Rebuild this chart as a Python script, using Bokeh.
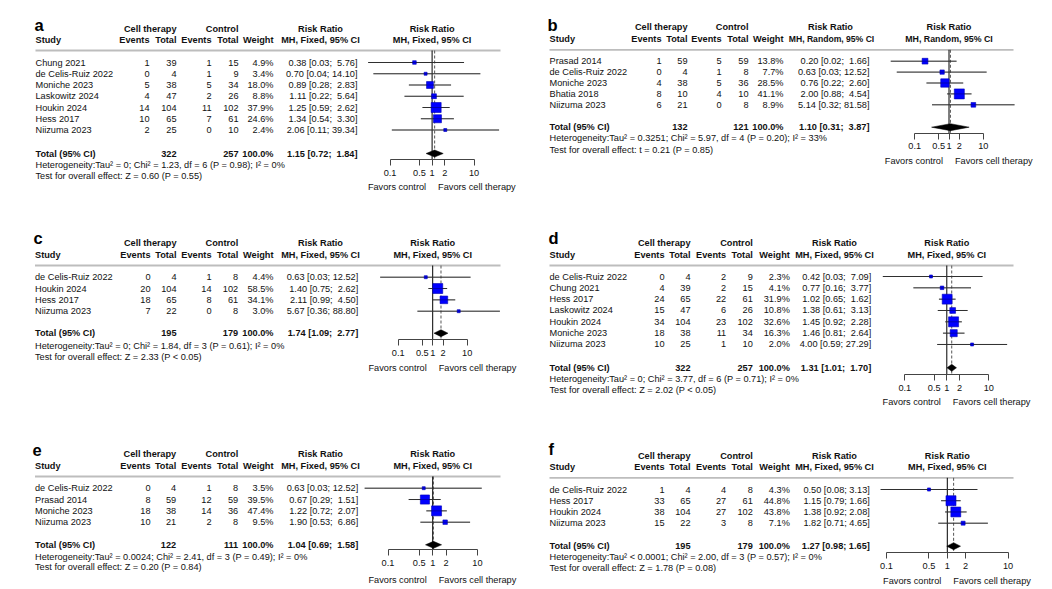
import math
from bokeh.plotting import figure
from bokeh.models import Range1d, LogScale, LogAxis, FixedTicker
from bokeh.core.properties import value
from bokeh.embed import file_html
from bokeh.resources import INLINE

# ---------------- data ----------------
A_STUDY = ["Chung 2021", "de Celis-Ruiz 2022", "Moniche 2023", "Laskowitz 2024",
           "Houkin 2024", "Hess 2017", "Niizuma 2023"]
A_EV_T = [1, 0, 5, 4, 14, 10, 2]
A_N_T = [39, 4, 38, 47, 104, 65, 25]
A_EV_C = [1, 1, 5, 2, 11, 7, 0]
A_N_C = [15, 9, 34, 26, 102, 61, 10]
A_W = [4.9, 3.4, 18.0, 8.8, 37.9, 24.6, 2.4]
A_RR = [0.38, 0.70, 0.89, 1.11, 1.25, 1.34, 2.06]
A_LO = [0.03, 0.04, 0.28, 0.22, 0.59, 0.54, 0.11]
A_HI = [5.76, 14.10, 2.83, 5.64, 2.62, 3.30, 39.34]
A_TOTAL_N = [322, 257]
A_TOTAL = [1.15, 0.72, 1.84]
A_METHOD = "MH, Fixed, 95% CI"
A_HET = "Heterogeneity:Tau² = 0; Chi² = 1.23, df = 6 (P = 0.98); I² = 0%"
A_TEST = "Test for overall effect: Z = 0.60 (P = 0.55)"

B_STUDY = ["Prasad 2014", "de Celis-Ruiz 2022", "Moniche 2023", "Bhatia 2018", "Niizuma 2023"]
B_EV_T = [1, 0, 4, 8, 6]
B_N_T = [59, 4, 38, 10, 21]
B_EV_C = [5, 1, 5, 4, 0]
B_N_C = [59, 8, 36, 10, 8]
B_W = [13.8, 7.7, 28.5, 41.1, 8.9]
B_RR = [0.20, 0.63, 0.76, 2.00, 5.14]
B_LO = [0.02, 0.03, 0.22, 0.88, 0.32]
B_HI = [1.66, 12.52, 2.60, 4.54, 81.58]
B_TOTAL_N = [132, 121]
B_TOTAL = [1.10, 0.31, 3.87]
B_METHOD = "MH, Random, 95% CI"
B_HET = "Heterogeneity:Tau² = 0.3251; Chi² = 5.97, df = 4 (P = 0.20); I² = 33%"
B_TEST = "Test for overall effect: t = 0.21 (P = 0.85)"

C_STUDY = ["de Celis-Ruiz 2022", "Houkin 2024", "Hess 2017", "Niizuma 2023"]
C_EV_T = [0, 20, 18, 7]
C_N_T = [4, 104, 65, 22]
C_EV_C = [1, 14, 8, 0]
C_N_C = [8, 102, 61, 8]
C_W = [4.4, 58.5, 34.1, 3.0]
C_RR = [0.63, 1.40, 2.11, 5.67]
C_LO = [0.03, 0.75, 0.99, 0.36]
C_HI = [12.52, 2.62, 4.50, 88.80]
C_TOTAL_N = [195, 179]
C_TOTAL = [1.74, 1.09, 2.77]
C_METHOD = "MH, Fixed, 95% CI"
C_HET = "Heterogeneity:Tau² = 0; Chi² = 1.84, df = 3 (P = 0.61); I² = 0%"
C_TEST = "Test for overall effect: Z = 2.33 (P < 0.05)"

D_STUDY = ["de Celis-Ruiz 2022", "Chung 2021", "Hess 2017", "Laskowitz 2024",
           "Houkin 2024", "Moniche 2023", "Niizuma 2023"]
D_EV_T = [0, 4, 24, 15, 34, 18, 10]
D_N_T = [4, 39, 65, 47, 104, 38, 25]
D_EV_C = [2, 2, 22, 6, 23, 11, 1]
D_N_C = [9, 15, 61, 26, 102, 34, 10]
D_W = [2.3, 4.1, 31.9, 10.8, 32.6, 16.3, 2.0]
D_RR = [0.42, 0.77, 1.02, 1.38, 1.45, 1.46, 4.00]
D_LO = [0.03, 0.16, 0.65, 0.61, 0.92, 0.81, 0.59]
D_HI = [7.09, 3.77, 1.62, 3.13, 2.28, 2.64, 27.29]
D_TOTAL_N = [322, 257]
D_TOTAL = [1.31, 1.01, 1.70]
D_METHOD = "MH, Fixed, 95% CI"
D_HET = "Heterogeneity:Tau² = 0; Chi² = 3.77, df = 6 (P = 0.71); I² = 0%"
D_TEST = "Test for overall effect: Z = 2.02 (P < 0.05)"

E_STUDY = ["de Celis-Ruiz 2022", "Prasad 2014", "Moniche 2023", "Niizuma 2023"]
E_EV_T = [0, 8, 18, 10]
E_N_T = [4, 59, 38, 21]
E_EV_C = [1, 12, 14, 2]
E_N_C = [8, 59, 36, 8]
E_W = [3.5, 39.5, 47.4, 9.5]
E_RR = [0.63, 0.67, 1.22, 1.90]
E_LO = [0.03, 0.29, 0.72, 0.53]
E_HI = [12.52, 1.51, 2.07, 6.86]
E_TOTAL_N = [122, 111]
E_TOTAL = [1.04, 0.69, 1.58]
E_METHOD = "MH, Fixed, 95% CI"
E_HET = "Heterogeneity:Tau² = 0.0024; Chi² = 2.41, df = 3 (P = 0.49); I² = 0%"
E_TEST = "Test for overall effect: Z = 0.20 (P = 0.84)"

F_STUDY = ["de Celis-Ruiz 2022", "Hess 2017", "Houkin 2024", "Niizuma 2023"]
F_EV_T = [1, 33, 38, 15]
F_N_T = [4, 65, 104, 22]
F_EV_C = [4, 27, 27, 3]
F_N_C = [8, 61, 102, 8]
F_W = [4.3, 44.8, 43.8, 7.1]
F_RR = [0.50, 1.15, 1.38, 1.82]
F_LO = [0.08, 0.79, 0.92, 0.71]
F_HI = [3.13, 1.66, 2.08, 4.65]
F_TOTAL_N = [195, 179]
F_TOTAL = [1.27, 0.98, 1.65]
F_METHOD = "MH, Fixed, 95% CI"
F_HET = "Heterogeneity:Tau² < 0.0001; Chi² = 2.00, df = 3 (P = 0.57); I² = 0%"
F_TEST = "Test for overall effect: Z = 1.78 (P = 0.08)"

TICKS = [0.1, 0.5, 1, 2, 10]
TICK_LABELS = ["0.1", "0.5", "1", "2", "10"]
GROUP_T = "Cell therapy"
GROUP_C = "Control"
COL_HEADS = ["Events", "Total", "Events", "Total", "Weight"]
RR_HEAD = "Risk Ratio"
TOTAL_LABEL = "Total (95% CI)"
FAVORS_L = "Favors control"
FAVORS_R = "Favors cell therapy"

# ---------------- layout (reference pixel coordinates) ----------------
W, H = 1044, 589
FONT_NAME = "Liberation Sans"
FONT = value(FONT_NAME)
FS_STR = "9.2px"
FS = value(FS_STR)
NB = "\u00a0"

LAYOUT = {
    "a": dict(letter=(34, 24), sx=35, cols=(149, 176, 211, 238, 273), rr_right=357, rr_head=320,
              grp_y=28, hdr_y=39, line_y=50, row0=62, step=11.25, total_y=153, het_y=164,
              test_y=175, one_x=431.6, ppd=42.0, line_end=500, axis_y=159.3, fav_y=186),
    "b": dict(letter=(547, 24), sx=549, cols=(661, 687, 721, 748, 783), rr_right=869, rr_head=830,
              grp_y=26.7, hdr_y=38.3, line_y=49.3, row0=60.7, step=10.9, total_y=126.7, het_y=137.7,
              test_y=149, one_x=948.5, ppd=34.3, line_end=1013, axis_y=132.7, fav_y=160,
              mfs=("8.6px", "8.8px"), m_head=831),
    "c": dict(letter=(33, 237), sx=34.5, cols=(150, 176, 211, 237.7, 273), rr_right=357.7, rr_head=320,
              grp_y=242.7, hdr_y=254, line_y=265, row0=276.7, step=11.33, total_y=332.7, het_y=345,
              test_y=356, one_x=432.2, ppd=34.5, line_end=500, axis_y=339, fav_y=367.7),
    "d": dict(letter=(548, 237), sx=549, cols=(664, 690, 725.7, 752.3, 789.3), rr_right=870.7, rr_head=834,
              grp_y=242.7, hdr_y=254.3, line_y=265, row0=276, step=11.33, total_y=367.3, het_y=378.3,
              test_y=389.3, one_x=946.3, ppd=42.0, line_end=1013, axis_y=374.3, fav_y=401.7),
    "e": dict(letter=(32, 449), sx=34.5, cols=(150, 175.7, 211, 237.7, 273), rr_right=357.7, rr_head=320,
              grp_y=453.3, hdr_y=465, line_y=476, row0=487.7, step=11.33, total_y=544.3, het_y=556,
              test_y=566.7, one_x=432.2, ppd=44.7, line_end=500, axis_y=549, fav_y=579),
    "f": dict(letter=(548, 448), sx=549, cols=(664, 690, 725.7, 752.3, 789.3), rr_right=869.3, rr_head=834,
              grp_y=455, hdr_y=466.7, line_y=477.3, row0=489, step=11.23, total_y=545.7, het_y=556.7,
              test_y=567.7, one_x=946.8, ppd=60.8, line_end=1013, axis_y=552.3, fav_y=580),
}

def pack(prefix):
    g = globals()
    return dict(study=g[prefix + "_STUDY"], ev_t=g[prefix + "_EV_T"], n_t=g[prefix + "_N_T"],
                ev_c=g[prefix + "_EV_C"], n_c=g[prefix + "_N_C"], w=g[prefix + "_W"],
                rr=g[prefix + "_RR"], lo=g[prefix + "_LO"], hi=g[prefix + "_HI"],
                tot_n=g[prefix + "_TOTAL_N"], tot=g[prefix + "_TOTAL"],
                method=g[prefix + "_METHOD"], het=g[prefix + "_HET"], test=g[prefix + "_TEST"])

PANELS = [(k, pack(k.upper()), LAYOUT[k]) for k in "abcdef"]

p = figure(width=W, height=H, x_range=Range1d(0, W), y_range=Range1d(H, 0),
           toolbar_location=None, output_backend="svg", x_axis_location=None, y_axis_location=None,
           min_border=0, outline_line_color=None, background_fill_color="white",
           border_fill_color="white")
p.grid.visible = False

xr, xsc = {}, {}
for key, d, L in PANELS:
    rn = "forest_" + key
    xr[rn] = Range1d(10 ** ((0 - L["one_x"]) / L["ppd"]), 10 ** ((W - L["one_x"]) / L["ppd"]))
    xsc[rn] = LogScale()
p.extra_x_ranges = xr
p.extra_x_scales = xsc


def txt(xs, ys, texts, align="left", bold=False, size=FS, rn="default", baseline="middle",
        color="#111111", x_offset=0):
    p.text(x=xs, y=ys, text=texts, text_align=align, text_baseline=baseline, text_font=FONT,
           text_font_size=size, text_font_style="bold" if bold else "normal", text_color=color,
           x_range_name=rn, x_offset=x_offset)


def fmt_rr(est, lo, hi, width):
    h = f"{hi:.2f}"
    return f"{est:.2f} [{lo:.2f}; " + NB * (width - len(h)) + h + "]"


for key, d, L in PANELS:
    rn = "forest_" + key
    n = len(d["study"])
    ys = [L["row0"] + i * L["step"] for i in range(n)]
    sx = L["sx"]
    cols = L["cols"]
    mfs = L.get("mfs", (FS_STR, FS_STR))

    # panel letter
    txt([L["letter"][0]], [L["letter"][1]], [key], bold=True, size=value("16.5px"),
        baseline="alphabetic", color="black")

    # headers
    txt([cols[1]], [L["grp_y"]], [GROUP_T], "right", True)
    txt([cols[3]], [L["grp_y"]], [GROUP_C], "right", True)
    txt([sx], [L["hdr_y"]], ["Study"], "left", True)
    txt(list(cols), [L["hdr_y"]] * 5, COL_HEADS, "right", True)
    txt([L["rr_head"]], [L["grp_y"]], [RR_HEAD], "center", True)
    txt([L.get("m_head", L["rr_head"])], [L["hdr_y"]], [d["method"]], "center", True,
        size=value(mfs[0]))
    txt([1], [L["grp_y"]], [RR_HEAD], "center", True, rn=rn)
    txt([1], [L["hdr_y"]], [d["method"]], "center", True, rn=rn, size=value(mfs[1]))

    # separator line
    p.segment(x0=[sx], y0=[L["line_y"]], x1=[L["line_end"]], y1=[L["line_y"]],
              line_color="#bdbdbd", line_width=1.8)

    # study rows
    width = max(len(f"{h:.2f}") for h in d["hi"] + [d["tot"][2]])
    txt([sx] * n, ys, d["study"], "left")
    for vals, cx in zip([d["ev_t"], d["n_t"], d["ev_c"], d["n_c"]], cols[:4]):
        txt([cx] * n, ys, [str(v) for v in vals], "right")
    txt([cols[4]] * n, ys, [f"{w:.1f}%" for w in d["w"]], "right")
    txt([L["rr_right"]] * n, ys, [fmt_rr(e, l, h, width) for e, l, h in zip(d["rr"], d["lo"], d["hi"])],
        "right")

    # total row
    ty = L["total_y"]
    txt([sx], [ty], [TOTAL_LABEL], "left", True)
    txt([cols[1], cols[3]], [ty, ty], [str(v) for v in d["tot_n"]], "right", True)
    txt([cols[4]], [ty], [f"{100.0:.1f}%"], "right", True)
    txt([L["rr_right"]], [ty], [fmt_rr(d["tot"][0], d["tot"][1], d["tot"][2], width)], "right", True)

    txt([sx], [L["het_y"]], [d["het"]], "left")
    txt([sx], [L["test_y"]], [d["test"]], "left")

    # forest plot
    p.segment(x0=[1], y0=[L["line_y"]], x1=[1], y1=[L["axis_y"]], x_range_name=rn,
              line_color="black", line_width=1)
    p.segment(x0=[d["tot"][0]], y0=[L["line_y"]], x1=[d["tot"][0]], y1=[L["axis_y"]], x_range_name=rn,
              line_color="#555555", line_width=1, line_dash="3 2")
    p.segment(x0=d["lo"], y0=ys, x1=d["hi"], y1=ys, x_range_name=rn, line_color="#444444", line_width=1)
    wmax = max(d["w"])
    sizes = [max(3.0, 10.0 * math.sqrt(w / wmax)) for w in d["w"]]
    p.scatter(x=d["rr"], y=ys, size=sizes, marker="square", fill_color="#0000ff",
              line_color="#0000b4", line_width=0.6, x_range_name=rn)
    p.segment(x0=d["lo"], y0=ys, x1=d["hi"], y1=ys, x_range_name=rn, line_color="#000000",
              line_width=1, line_alpha=0.3)
    hh = 3.5
    p.patch(x=[d["tot"][1], d["tot"][0], d["tot"][2], d["tot"][0]], y=[ty, ty - hh, ty, ty + hh],
            x_range_name=rn, fill_color="black", line_color="black", line_width=0.5)

    ax = LogAxis(x_range_name=rn, fixed_location=L["axis_y"], bounds=(TICKS[0], TICKS[-1]),
                 ticker=FixedTicker(ticks=TICKS, minor_ticks=[]),
                 major_label_overrides={t: s for t, s in zip(TICKS, TICK_LABELS)},
                 axis_line_color="#444444", major_tick_line_color="#444444",
                 major_tick_out=6, major_tick_in=0, minor_tick_out=0, minor_tick_in=0,
                 major_label_standoff=4, major_label_text_font=FONT_NAME,
                 major_label_text_font_size=FS_STR, major_label_text_color="#111111")
    p.add_layout(ax, "below")

    txt([1], [L["fav_y"]], [FAVORS_L], "right", rn=rn, x_offset=-6)
    txt([1], [L["fav_y"]], [FAVORS_R], "left", rn=rn, x_offset=6)

open("out.html", "w").write(file_html(p, INLINE))
